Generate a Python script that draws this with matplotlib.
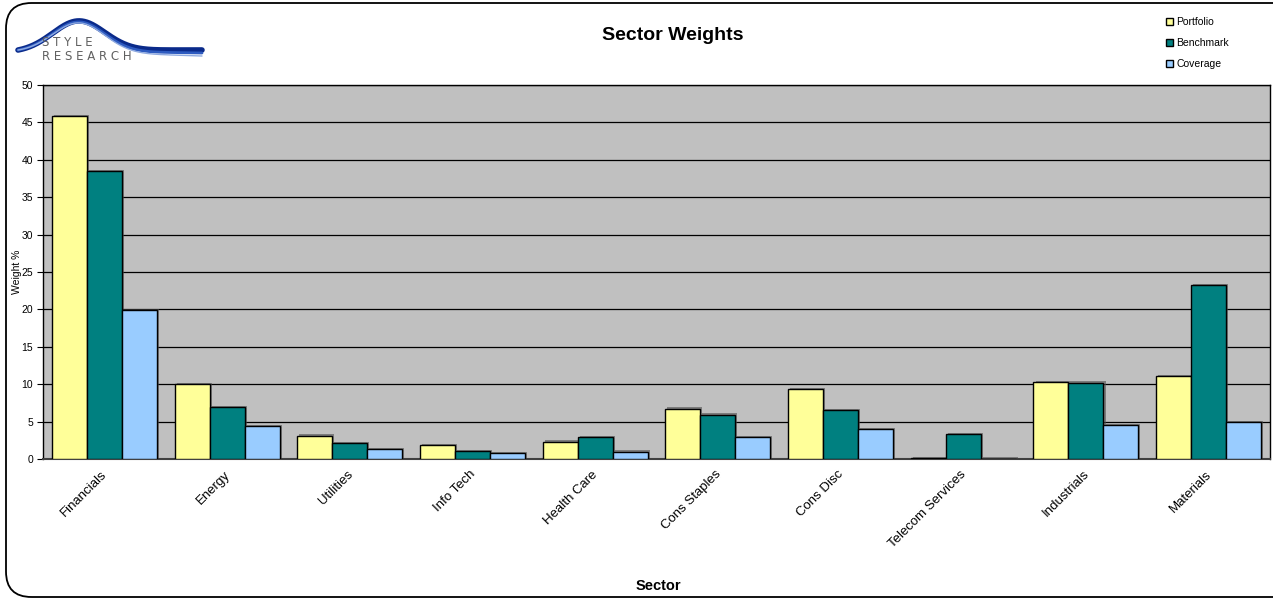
import matplotlib
matplotlib.use("Agg")
import matplotlib.pyplot as plt
import numpy as np
from matplotlib.patches import FancyBboxPatch, Patch
from matplotlib import patheffects as pe

sectors = ["Financials", "Energy", "Utilities", "Info Tech", "Health Care",
           "Cons Staples", "Cons Disc", "Telecom Services", "Industrials", "Materials"]
portfolio = [45.8, 10.0, 3.1, 1.85, 2.3, 6.7, 9.35, 0.1, 10.3, 11.1]
benchmark = [38.5, 6.95, 2.1, 1.05, 2.9, 5.9, 6.55, 3.3, 10.2, 23.2]
coverage = [19.9, 4.4, 1.3, 0.8, 1.0, 2.9, 4.0, 0.05, 4.5, 4.9]
series_names = ["Portfolio", "Benchmark", "Coverage"]
colors = ["#FFFF99", "#008080", "#99CCFF"]
yticks = [0, 5, 10, 15, 20, 25, 30, 35, 40, 45, 50]

plt.rcParams['font.family'] = ["Liberation Sans", "DejaVu Sans"]

W, H = 1273, 600
fig = plt.figure(figsize=(W / 100, H / 100), dpi=100)

# outer rounded frame (right edge runs off the image)
frame = FancyBboxPatch((6 / W, 3 / H), (W + 40) / W, (H - 6) / H,
                       boxstyle="round,pad=0,rounding_size=0.02",
                       transform=fig.transFigure, fill=False, edgecolor="black",
                       linewidth=1.3, mutation_aspect=W / H)
fig.patches.append(frame)

ax = fig.add_axes([43 / W, 1 - 459 / H, (1270 - 43) / W, (459 - 85) / H])
ax.set_facecolor("#C0C0C0")

x = np.arange(len(sectors))
bw = 0.285
data = [portfolio, benchmark, coverage]
shadow = [pe.SimplePatchShadow(offset=(1.5, 1.0), shadow_rgbFace="#505050", alpha=0.6), pe.Normal()]
for i, (vals, c, n) in enumerate(zip(data, colors, series_names)):
    bars = ax.bar(x + (i - 1) * bw, vals, width=bw, color=c, edgecolor="black",
                  linewidth=1.0, zorder=3)
    for b in bars:
        b.set_path_effects(shadow)

ax.set_xlim(-0.5, len(sectors) - 0.5)
ax.set_ylim(0, 50)
ax.set_yticks(yticks)
ax.yaxis.grid(True, color="black", linewidth=0.9, zorder=1)
ax.set_axisbelow(True)
ax.tick_params(axis="y", labelsize=7.5, length=4, direction="out", color="black", pad=3)
ax.set_xticks(x)
ax.set_xticklabels(sectors, rotation=45, ha="right", va="center_baseline",
                   rotation_mode="anchor", fontsize=9.5)
ax.tick_params(axis="x", length=0, pad=9)
for s in ax.spines.values():
    s.set_linewidth(1.0)
ax.spines["bottom"].set_color("#404040")
ax.spines["bottom"].set_linewidth(1.5)

ax.set_ylabel("Weight %", fontsize=7.5)
ax.yaxis.set_label_coords(-0.017, 0.5)
fig.text(658 / W, 1 - 586 / H, "Sector", ha="center", va="center", fontsize=10.5, fontweight="bold")
fig.text(673 / W, 1 - 36 / H, "Sector Weights", ha="center", va="center", fontsize=14, fontweight="bold")

handles = [Patch(facecolor=c, edgecolor="black", linewidth=1.0, label=n)
           for c, n in zip(colors, series_names)]
leg = fig.legend(handles=handles, loc="upper left", bbox_to_anchor=(1162 / W, 1 - 13 / H),
                 frameon=False, fontsize=7.5, handlelength=0.7, handleheight=0.7,
                 handletextpad=0.3, labelspacing=1.05, borderaxespad=0)

# logo: swoosh + text
t = np.linspace(0, 1, 300)
lx = 18 + 184 * t
base = 52 - 30 * np.exp(-((t - 0.33) / 0.2) ** 2) - 4 * t + 2 * t ** 2
for lw, col, off in [(1.0, "#C0CCE8", -2), (4.0, "#0A2A8A", 0), (2.0, "#2E5BC0", 3),
                     (1.0, "#8FAAE0", 6)]:
    fig.add_artist(plt.Line2D(lx / W, 1 - (base + off * t) / H, transform=fig.transFigure,
                              color=col, linewidth=lw, solid_capstyle="round"))
fig.text(42 / W, 1 - 43 / H, "S T Y L E", fontsize=8.5, color="#606060", va="center", ha="left",
         family="DejaVu Sans")
fig.text(42 / W, 1 - 57 / H, "R E S E A R C H", fontsize=8.5, color="#606060", va="center", ha="left",
         family="DejaVu Sans")

fig.savefig("out.png", dpi=100)
